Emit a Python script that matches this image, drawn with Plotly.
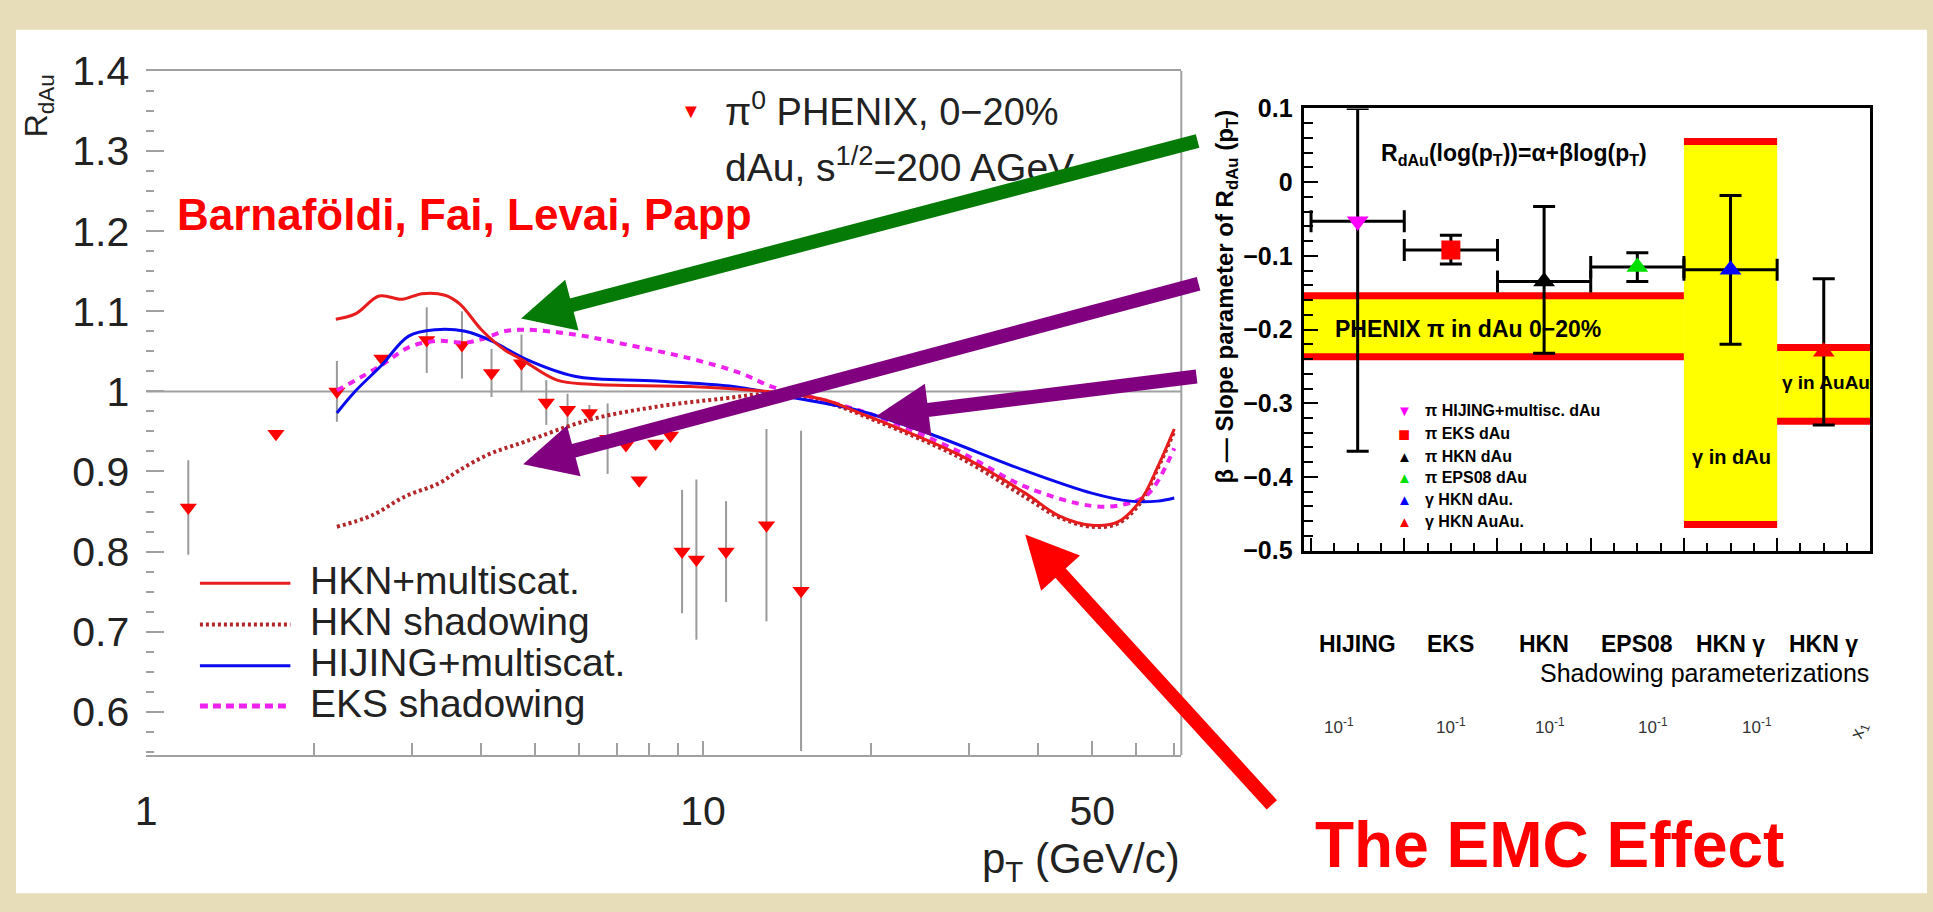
import plotly.graph_objects as go

W, H = 1933, 912

# ---------------- Left panel data (R_dAu vs pT) ----------------
pt_data = [1.19, 1.71, 2.20, 2.65, 3.19, 3.69, 4.17, 4.72, 5.23, 5.71, 6.25,
           6.74, 7.27, 7.68, 8.22, 8.74, 9.17, 9.73, 11.0, 13.0, 15.0]
r_data = [0.855, 0.947, 1.000, 1.041, 1.064, 1.058, 1.023, 1.035, 0.986, 0.977, 0.973,
          0.941, 0.933, 0.889, 0.935, 0.945, 0.800, 0.790, 0.800, 0.833, 0.751]
r_err = [0.059, 0.0, 0.038, 0.0, 0.041, 0.042, 0.030, 0.036, 0.028, 0.020, 0.010,
         0.044, 0.0, 0.0, 0.0, 0.0, 0.077, 0.100, 0.063, 0.120, 0.200]

hkn_multi_pt = [2.19, 2.38, 2.62, 2.88, 3.13, 3.44, 3.66, 4.0, 4.4, 4.72, 5.47, 6.29, 9.49,
                12.5, 14.3, 16.65, 18.8, 21.9, 28.8, 37.9, 43.5, 49.9, 55.6, 61.2, 65.5, 70.2]
hkn_multi_r = [1.090, 1.097, 1.119, 1.115, 1.122, 1.120, 1.109, 1.077, 1.052, 1.040, 1.014, 1.009, 1.006,
               1.001, 0.997, 0.989, 0.975, 0.957, 0.921, 0.873, 0.845, 0.833, 0.837, 0.865, 0.905, 0.953]

hkn_shad_pt = [2.20, 2.54, 2.92, 3.35, 3.64, 4.11, 4.78, 6.29, 8.27, 10.87, 13.4,
               16.65, 20.5, 28.8, 37.9, 43.5, 49.9, 55.6, 61.2, 65.5, 70.2]
hkn_shad_r = [0.831, 0.845, 0.869, 0.885, 0.901, 0.921, 0.937, 0.965, 0.981, 0.991, 0.997,
              0.986, 0.963, 0.918, 0.868, 0.843, 0.831, 0.835, 0.862, 0.903, 0.950]

hijing_pt = [2.20, 2.38, 2.65, 2.96, 3.31, 3.74, 4.17, 4.78, 5.88, 8.27, 11.65,
             14.3, 18.8, 25.1, 37.9, 49.9, 58.5, 65.5, 70.2]
hijing_r = [0.973, 1.001, 1.033, 1.069, 1.077, 1.075, 1.063, 1.041, 1.019, 1.013, 1.005,
            0.993, 0.977, 0.949, 0.901, 0.873, 0.863, 0.863, 0.867]

eks_pt = [2.20, 2.65, 2.96, 3.31, 3.74, 4.0, 4.4, 4.78, 5.88, 7.22, 9.49, 11.65, 13.4,
          16.65, 20.5, 28.8, 37.9, 49.9, 57.2, 63.0, 70.2]
eks_r = [1.001, 1.033, 1.055, 1.063, 1.061, 1.065, 1.075, 1.077, 1.071, 1.059, 1.041, 1.023, 1.005,
         0.988, 0.969, 0.925, 0.881, 0.857, 0.859, 0.872, 0.929]

x_tick_vals = [1, 10, 50]
x_tick_text = ["1", "10", "50"]
y_tick_vals = [0.6, 0.7, 0.8, 0.9, 1.0, 1.1, 1.2, 1.3, 1.4]
y_tick_text = ["0.6", "0.7", "0.8", "0.9", "1", "1.1", "1.2", "1.3", "1.4"]

# ---------------- Right panel data (slope parameter beta) ----------------
cat_pos = [0.5, 1.5, 2.5, 3.5, 4.5, 5.5]
cat_labels = ["HIJING", "EKS", "HKN", "EPS08", "HKN γ", "HKN γ"]
beta = [-0.053, -0.092, -0.135, -0.115, -0.119, -0.230]
beta_err_plus = [0.153, 0.020, 0.102, 0.019, 0.101, 0.099]
beta_err_minus = [0.312, 0.019, 0.097, 0.020, 0.101, 0.0995]
bin_half = [0.5, 0.5, 0.5, 0.5, 0.5, 0.0]
pt_symbols = ["triangle-down", "square", "triangle-up", "triangle-up", "triangle-up", "triangle-up"]
pt_colors = ["#ff00ff", "#ff0000", "#000000", "#00e000", "#0000ff", "#ff0000"]
legend_texts = ["π HIJING+multisc. dAu", "π EKS dAu", "π HKN dAu",
                "π EPS08 dAu", "γ HKN dAu.", "γ HKN AuAu."]
legend_glyphs = ["▼", "■", "▲", "▲", "▲", "▲"]

band_x0 = [-0.08, 4.0, 5.0]
band_x1 = [4.0, 5.0, 6.0]
band_lo = [-0.237, -0.4645, -0.3243]
band_hi = [-0.154, 0.055, -0.2245]
band_labels = ["PHENIX π in dAu 0−20%", "γ in dAu", "γ in AuAu"]

r_tick_vals = [-0.5, -0.4, -0.3, -0.2, -0.1, 0.0, 0.1]
r_tick_text = ["−0.5", "−0.4", "−0.3", "−0.2", "−0.1", "0", "0.1"]

SANS = "Liberation Sans, Arial, sans-serif"
NARROW = "Liberation Sans Narrow, Arial Narrow, Liberation Sans, sans-serif"


def px(x):
    return x / W


def py(y):
    return 1 - y / H


fig = go.Figure()

# ---- left panel traces ----
fig.add_trace(go.Scatter(x=pt_data, y=r_data, mode="markers",
                         marker=dict(symbol="triangle-down", size=15, color="#ff0000"),
                         error_y=dict(type="data", array=r_err, color="#9a9a9a", thickness=2, width=0),
                         xaxis="x", yaxis="y", name="π0 PHENIX"))
fig.add_trace(go.Scatter(x=hkn_shad_pt, y=hkn_shad_r, mode="lines",
                         line=dict(color="#b3262a", width=4, dash="3px,3px", shape="spline"),
                         xaxis="x", yaxis="y", name="HKN shadowing"))
fig.add_trace(go.Scatter(x=eks_pt, y=eks_r, mode="lines",
                         line=dict(color="#ee22ee", width=4, dash="7px,6px", shape="spline"),
                         xaxis="x", yaxis="y", name="EKS shadowing"))
fig.add_trace(go.Scatter(x=hijing_pt, y=hijing_r, mode="lines",
                         line=dict(color="#0a0aee", width=3, shape="spline"),
                         xaxis="x", yaxis="y", name="HIJING+multiscat."))
fig.add_trace(go.Scatter(x=hkn_multi_pt, y=hkn_multi_r, mode="lines",
                         line=dict(color="#e81c1c", width=3, shape="spline"),
                         xaxis="x", yaxis="y", name="HKN+multiscat."))

# ---- right panel bands ----
for x0, x1, lo, hi in zip(band_x0, band_x1, band_lo, band_hi):
    fig.add_trace(go.Scatter(x=[x0, x1, x1, x0, x0], y=[lo, lo, hi, hi, lo], mode="lines",
                             fill="toself", fillcolor="#ffff00", line=dict(width=0),
                             xaxis="x2", yaxis="y2", hoverinfo="skip"))
    fig.add_trace(go.Scatter(x=[x0, x1, None, x0, x1], y=[hi, hi, None, lo, lo], mode="lines",
                             line=dict(color="#ff0000", width=7),
                             xaxis="x2", yaxis="y2", hoverinfo="skip"))

# ---- right panel points ----
for i in range(len(cat_pos)):
    fig.add_trace(go.Scatter(
        x=[cat_pos[i]], y=[beta[i]], mode="markers",
        marker=dict(symbol=pt_symbols[i], size=19, color=pt_colors[i]),
        error_y=dict(type="data", symmetric=False, array=[beta_err_plus[i]],
                     arrayminus=[beta_err_minus[i]], color="black", thickness=3, width=11),
        error_x=dict(type="data", array=[bin_half[i]], color="black", thickness=3,
                     width=11, visible=bin_half[i] > 0),
        xaxis="x2", yaxis="y2", name=legend_texts[i]))

axis_gray = "#a0a0a0"
fig.update_layout(
    width=W, height=H,
    margin=dict(l=0, r=0, t=0, b=0),
    paper_bgcolor="#e8ddb9",
    plot_bgcolor="white",
    showlegend=False,
    xaxis=dict(type="log", range=[0, 1.859], domain=[px(136), px(1177)], anchor="y",
               showline=True, mirror=True, linecolor=axis_gray, linewidth=2,
               ticks="inside", ticklen=14, tickcolor=axis_gray, tickwidth=2,
               tickvals=x_tick_vals, ticktext=x_tick_text,
               tickfont=dict(family=SANS, size=41, color="#222"),
               minor=dict(ticks="inside", ticklen=12, tickcolor=axis_gray, dtick="D1", tickwidth=2),
               showgrid=False, zeroline=False, ticklabelstandoff=19),
    yaxis=dict(range=[0.546, 1.40], domain=[py(763), py(50)], anchor="x",
               showline=False, ticks="inside", ticklen=18, tickcolor=axis_gray, tickwidth=2,
               tickvals=y_tick_vals, ticktext=y_tick_text,
               tickfont=dict(family=SANS, size=41, color="#222"),
               minor=dict(ticks="inside", ticklen=8, tickcolor=axis_gray, dtick=0.025, tickwidth=2),
               showgrid=False, zeroline=False, ticklabelstandoff=16),
    xaxis2=dict(range=[-0.08, 6.0], domain=[px(1300), px(1870)], anchor="y2",
                showline=True, mirror=True, linecolor="black", linewidth=3,
                ticks="inside", ticklen=13, tickwidth=2, tickcolor="black", dtick=1, tick0=0,
                showticklabels=False,
                minor=dict(ticks="inside", ticklen=8, tickwidth=2, tickcolor="black", dtick=0.25),
                showgrid=False, zeroline=False),
    yaxis2=dict(range=[-0.5, 0.1], domain=[py(550), py(89)], anchor="x2",
                showline=True, mirror=True, linecolor="black", linewidth=3,
                ticks="inside", ticklen=14, tickwidth=2, tickcolor="black",
                tickvals=r_tick_vals, ticktext=r_tick_text,
                tickfont=dict(family=NARROW, size=25, color="black", weight="bold"),
                minor=dict(ticks="inside", ticklen=9, tickwidth=2, tickcolor="black", dtick=0.02),
                showgrid=False, zeroline=False, ticklabelstandoff=3),
)

shapes = [
    # white slide area
    dict(type="rect", xref="paper", yref="paper", x0=px(5), x1=px(1927), y0=py(907), y1=py(7),
         fillcolor="white", line=dict(width=0), layer="below"),
    # R = 1 reference line
    dict(type="line", xref="x domain", yref="y", x0=0, x1=1, y0=1, y1=1,
         line=dict(color=axis_gray, width=2), layer="below"),
    # right frame line of left panel
    dict(type="line", xref="x domain", yref="y domain", x0=1, x1=1, y0=0, y1=1,
         line=dict(color=axis_gray, width=2)),
]

# bottom-left legend line samples
leg_rows = [584, 627, 670, 712]
leg_styles = [dict(color="#e81c1c", width=3), dict(color="#b3262a", width=4, dash="3px,3px"),
              dict(color="#0a0aee", width=3), dict(color="#ee22ee", width=5, dash="8px,5px")]
leg_names = ["HKN+multiscat.", "HKN shadowing", "HIJING+multiscat.", "EKS shadowing"]
for yy, st in zip(leg_rows, leg_styles):
    shapes.append(dict(type="line", xref="paper", yref="paper", x0=px(190), x1=px(281),
                       y0=py(yy), y1=py(yy), line=st))

annotations = []


def ann(text, x, y, size, color="#222", family=SANS, xanchor="left", yanchor="middle",
        bold=False, angle=0):
    annotations.append(dict(text=text, x=px(x), y=py(y), xref="paper", yref="paper",
                            showarrow=False, xanchor=xanchor, yanchor=yanchor, textangle=angle,
                            borderpad=0,
                            font=dict(family=family, size=size, color=color,
                                      weight="bold" if bold else "normal")))


for yy, name in zip(leg_rows, leg_names):
    ann(name, 300, yy - 3, 39)

# left panel texts
ann("R<sub>dAu</sub>", 28, 86, 32, angle=-90, xanchor="center")
ann("p<sub>T</sub> (GeV/c)", 1177, 874, 42, xanchor="right")
ann("Barnaföldi, Fai, Levai, Papp", 166, 200, 44, color="#ff0000", bold=True)
ann("▼", 684, 92, 20, color="#ff0000", xanchor="center")
ann("π<sup>0</sup> PHENIX, 0−20%", 717, 90, 38)
ann("dAu, s<sup>1/2</sup>=200 AGeV", 717, 147, 39)

# right panel texts
ann("R<sub>dAu</sub>(log(p<sub>T</sub>))=α+βlog(p<sub>T</sub>)", 1377, 137, 23,
    color="black", family=NARROW, bold=True)
ann("β — Slope parameter of R<sub>dAu</sub> (p<sub>T</sub>)", 1222, 285, 24, color="black",
    family=NARROW, bold=True, angle=-90, xanchor="center")
ann(band_labels[0], 1331, 319, 23, color="black", family=NARROW, bold=True)
ann(band_labels[1], 1730, 452, 20, color="black", family=NARROW, bold=True, xanchor="center")
ann(band_labels[2], 1825, 375, 19, color="black", family=NARROW, bold=True, xanchor="center")
for i, lab in enumerate(cat_labels):
    annotations.append(dict(text=lab, x=cat_pos[i], y=py(647), xref="x2", yref="paper",
                            showarrow=False, xanchor="center", yanchor="middle",
                            font=dict(family=NARROW, size=23, color="black", weight="bold")))
ann("Shadowing parameterizations", 1870, 678, 25, color="black", family=NARROW,
    xanchor="right")
leg_y = [404, 428, 452, 474, 497, 520]
for i in range(6):
    ann(legend_glyphs[i], 1401, leg_y[i], 15 if legend_glyphs[i] != "■" else 20,
        color=pt_colors[i], xanchor="center")
    ann(legend_texts[i], 1421, leg_y[i], 16, color="black", family=NARROW, bold=True)

# stray cropped axis labels under the right panel
for xx in [1336, 1448, 1548, 1651, 1756]:
    ann("10<sup>-1</sup>", xx, 733, 17, color="#333", xanchor="center")
ann("x<sub>1</sub>", 1859, 737, 18, color="#333", angle=-70, xanchor="center")

ann("The EMC Effect", 1310, 857, 64, color="#ff0000", bold=True)

# arrows (tip at x,y ; tail offset ax, ay in pixels)
arrows = [
    ("#067a06", 513, 308, 678, -178),
    ("#800080", 515, 460, 677, -181),
    ("#800080", 870, 410, 322, -40),
    ("#ff0000", 1020, 533, 248, 272),
]
for col, tx, ty, dx, dy in arrows:
    annotations.append(dict(text="", x=px(tx), y=py(ty), xref="paper", yref="paper",
                            ax=dx, ay=dy, axref="pixel", ayref="pixel", showarrow=True,
                            arrowhead=2, arrowsize=0.75, arrowwidth=14, arrowcolor=col))

fig.update_layout(shapes=shapes, annotations=annotations)
fig.write_html("out.html")
